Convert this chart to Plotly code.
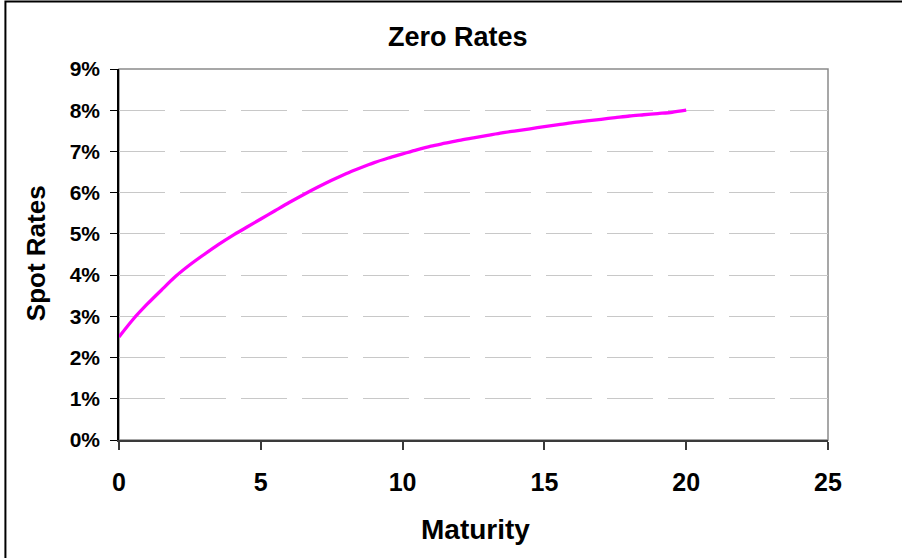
import plotly.graph_objects as go

# Zero-coupon spot rate curve (maturity in years, rate in %)
maturity = [0, 0.5, 1, 1.5, 2, 2.5, 3, 3.5, 4, 4.5, 5, 5.5, 6, 6.5, 7, 7.5, 8, 8.5,
            9, 9.5, 10, 10.5, 11, 11.5, 12, 12.5, 13, 13.5, 14, 14.5, 15, 15.5, 16,
            16.5, 17, 17.5, 18, 18.5, 19, 19.5, 20]
spot_rate = [2.50, 2.93, 3.30, 3.64, 3.97, 4.25, 4.50, 4.74, 4.96, 5.16, 5.36, 5.56,
             5.76, 5.95, 6.13, 6.30, 6.46, 6.60, 6.73, 6.84, 6.94, 7.04, 7.13, 7.20,
             7.27, 7.33, 7.39, 7.45, 7.50, 7.55, 7.60, 7.65, 7.70, 7.74, 7.78, 7.82,
             7.86, 7.89, 7.92, 7.95, 8.00]

title_text = "Zero Rates"
x_title = "Maturity"
y_title = "Spot Rates"

FONT = "Liberation Sans, Arial, sans-serif"

# plot-area geometry in pixels
PLOT_L, PLOT_R, PLOT_T, PLOT_B = 119.5, 828.0, 69.5, 440.0


def px_to_paper_x(px):
    return (px - PLOT_L) / (PLOT_R - PLOT_L)


def px_to_paper_y(py):
    return (PLOT_B - py) / (PLOT_B - PLOT_T)


fig = go.Figure()
fig.add_trace(go.Scatter(
    x=maturity, y=spot_rate, mode="lines",
    line=dict(color="#FF00FF", width=3.3, shape="spline", smoothing=0.8),
    hoverinfo="x+y", showlegend=False,
))

fig.update_layout(
    width=902, height=558,
    margin=dict(l=119, r=74, t=69, b=118),
    paper_bgcolor="white", plot_bgcolor="white",
    font=dict(family=FONT, color="black"),
    xaxis=dict(
        range=[0, 25], dtick=5, tick0=0,
        showgrid=False, zeroline=False,
        showline=True, linecolor="#3a3a3a", linewidth=1.5,
        ticks="outside", ticklen=8, tickcolor="#3a3a3a", tickwidth=1.5,
        tickfont=dict(family=FONT, size=25, weight="bold"),
        ticklabelstandoff=11,
    ),
    yaxis=dict(
        range=[0, 9], dtick=1, tick0=0,
        ticksuffix="%",
        showgrid=True, gridcolor="#c8c8c8", gridwidth=1.2, griddash="46px,15px",
        zeroline=False,
        showline=True, linecolor="black", linewidth=1.5,
        ticks="outside", ticklen=7, tickcolor="black", tickwidth=1.2,
        tickfont=dict(family=FONT, size=21, weight="bold"),
        ticklabelstandoff=6,
    ),
    shapes=[
        # plot-area frame (top and right edges)
        dict(type="rect", xref="paper", yref="paper", x0=0, x1=1, y0=0, y1=1,
             line=dict(color="#8a8a8a", width=1.5), layer="below"),
        # chart-area border
        dict(type="rect", xref="paper", yref="paper",
             x0=px_to_paper_x(6), x1=1.3, y0=-0.4, y1=px_to_paper_y(2),
             line=dict(color="black", width=2), layer="above"),
    ],
    annotations=[
        dict(text=title_text, xref="paper", yref="paper",
             x=px_to_paper_x(458.5), y=px_to_paper_y(38),
             xanchor="center", yanchor="middle", showarrow=False,
             font=dict(family=FONT, size=27, weight="bold")),
        dict(text=x_title, xref="paper", yref="paper",
             x=px_to_paper_x(476), y=px_to_paper_y(529),
             xanchor="center", yanchor="middle", showarrow=False,
             font=dict(family=FONT, size=28, weight="bold")),
        dict(text=y_title, xref="paper", yref="paper",
             x=px_to_paper_x(36), y=px_to_paper_y(253),
             xanchor="center", yanchor="middle", showarrow=False, textangle=-90,
             font=dict(family=FONT, size=26, weight="bold")),
    ],
)

fig.write_html("out.html")
